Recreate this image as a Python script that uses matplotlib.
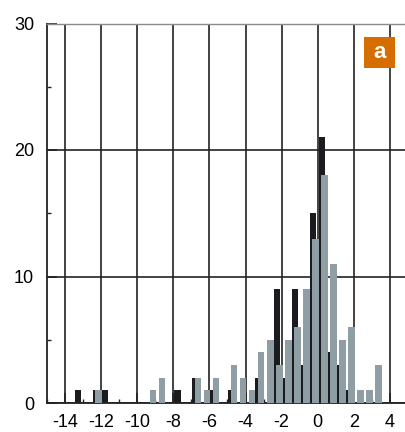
import matplotlib
matplotlib.use("Agg")
import matplotlib.pyplot as plt
from matplotlib.patches import Rectangle
from matplotlib.ticker import MultipleLocator, FuncFormatter

# Histogram counts, bins labelled by their upper edge (bin width 0.5)
black_bins = [-13.0, -12.0, -11.5, -7.5, -6.5, -5.5, -4.5, -3.0, -2.0, -1.5,
              -1.0, -0.5, 0.0, 0.5, 1.0, 1.5, 2.0]
black_counts = [1, 1, 1, 1, 2, 1, 1, 2, 9, 2, 9, 3, 15, 21, 4, 3, 1]

gray_bins = [-12.0, -9.0, -8.5, -6.5, -6.0, -5.5, -4.5, -4.0, -3.5, -3.0,
             -2.5, -2.0, -1.5, -1.0, -0.5, 0.0, 0.5, 1.0, 1.5, 2.0, 2.5, 3.0, 3.5]
gray_counts = [1, 1, 2, 2, 1, 2, 3, 2, 1, 4, 5, 3, 5, 6, 9, 13, 18, 11, 5, 6, 1, 1, 3]

x_ticks = [-14, -12, -10, -8, -6, -4, -2, 0, 2, 4]
y_ticks = [0, 10, 20, 30]
panel_label = "a"

BLACK = "#1b1c1f"
GRAY = "#8f9da4"
ORANGE = "#d66d00"
GRID = "#222222"

plt.rcParams['font.family'] = ['Liberation Sans', 'DejaVu Sans']

fig = plt.figure(figsize=(4.06, 4.32), dpi=100)
ax = fig.add_axes([46.7 / 406, 1 - 403 / 432, 1 - 46.7 / 406, (403 - 23.5) / 432])

# bar positions relative to bin centre (upper edge - 0.25)
bw = 0.36
ax.bar([b - 0.25 - 0.02 for b in black_bins], black_counts, width=bw,
       color=BLACK, linewidth=0, zorder=2)
ax.bar([b - 0.25 + 0.12 for b in gray_bins], gray_counts, width=bw,
       color=GRAY, linewidth=0, zorder=3)

ax.set_xlim(-15, 4.88)
ax.set_ylim(0, 30)
ax.set_xticks(x_ticks)
ax.set_yticks(y_ticks)
ax.xaxis.set_minor_locator(MultipleLocator(1))
ax.yaxis.set_minor_locator(MultipleLocator(5))
hyphen = FuncFormatter(lambda v, p: f"{v:g}".replace("\u2212", "-"))
ax.xaxis.set_major_formatter(hyphen)
ax.yaxis.set_major_formatter(hyphen)

ax.tick_params(which='major', direction='in', length=7, width=1.2, color=GRID,
               labelsize=13, pad=8)
ax.tick_params(axis='y', which='major', pad=9)
ax.tick_params(which='minor', direction='in', length=3, width=1.0, color=GRID)
ax.tick_params(top=False, right=False)

ax.grid(True, which='major', color=GRID, linewidth=1.2)
ax.set_axisbelow(True)

for side in ['left', 'bottom']:
    ax.spines[side].set_color(GRID)
    ax.spines[side].set_linewidth(1.3)
ax.spines['top'].set_color('#8a8a8a')
ax.spines['top'].set_linewidth(1.0)
ax.spines['right'].set_visible(False)

# orange panel label
box = Rectangle((0.883, 0.8827), 0.0863, 0.0817, transform=ax.transAxes,
                facecolor=ORANGE, edgecolor='none', zorder=5, clip_on=False)
ax.add_patch(box)
ax.text(0.883 + 0.0863 / 2, 0.8827 + 0.0817 / 2, panel_label, transform=ax.transAxes,
        ha='center', va='center', color='white', fontsize=16, fontweight='bold',
        zorder=6)

fig.savefig("out.png", dpi=100)
